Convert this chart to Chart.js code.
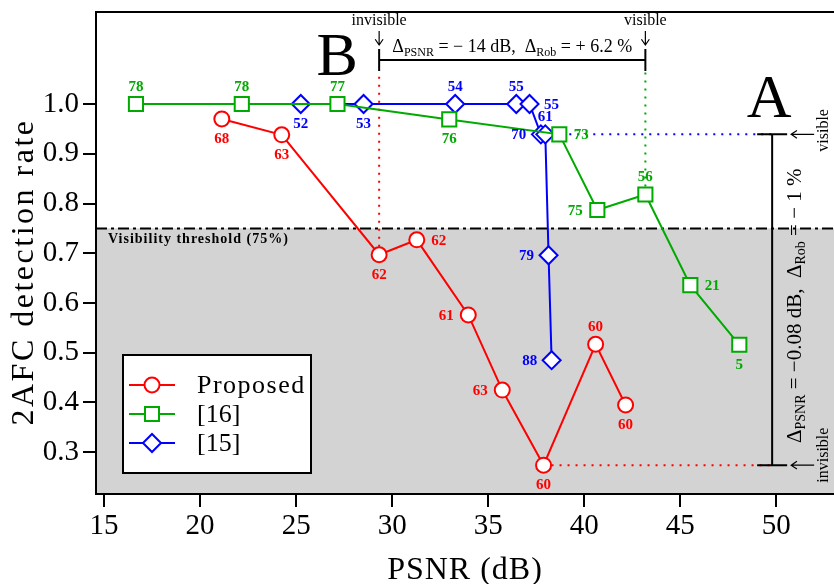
<!DOCTYPE html>
<html>
<head>
<meta charset="utf-8">
<script src="https://cdn.jsdelivr.net/npm/chart.js@4.4.1/dist/chart.umd.min.js"></script>
<style>
  html, body { margin: 0; padding: 0; background: #fff; overflow: hidden; }
</style>
</head>
<body>
<canvas id="chart" width="834" height="584"></canvas>
<script>
// values
const proposedX = [21.13, 24.25, 29.32, 31.28, 33.96, 35.73, 37.88, 40.59, 42.15];
const proposedY = [0.970, 0.938, 0.697, 0.727, 0.576, 0.425, 0.274, 0.517, 0.395];
const proposedLabels = ['68', '63', '62', '62', '61', '63', '60', '60', '60'];

const ref16X = [16.66, 22.17, 27.15, 32.97, 38.70, 40.68, 43.18, 45.52, 48.07];
const ref16Y = [1.0, 1.0, 1.0, 0.969, 0.939, 0.787, 0.818, 0.636, 0.516];
const ref16Labels = ['78', '78', '77', '76', '73', '75', '56', '21', '5'];

const ref15X = [25.24, 28.51, 33.28, 36.46, 37.15, 37.74, 37.97, 38.14, 38.30];
const ref15Y = [1.0, 1.0, 1.0, 1.0, 1.0, 0.939, 0.939, 0.696, 0.485];
const ref15Labels = ['52', '53', '54', '55', '55', '70', '61', '79', '88'];

const xTicks = [15, 20, 25, 30, 35, 40, 45, 50];
const yTicks = [0.3, 0.4, 0.5, 0.6, 0.7, 0.8, 0.9, 1.0];
const threshold = 0.75;
const rangeLineX = 49.78;

// where each number sits around its marker (a=above, b=below, l=left, r=right)
const proposedPos = ['b', 'b', 'b', 'r', 'l', 'l', 'b', 'a', 'b'];
const ref16Pos = ['a', 'a', 'a', 'b', 'r', 'l', 'a', 'r', 'b'];
const ref15Pos = ['b', 'b', 'a', 'a', 'r', 'l', 'a', 'l', 'l'];

const RED = '#ff0000', GREEN = '#00aa00', BLUE = '#0000ff';
const SERIF = '"Liberation Serif", "Times New Roman", serif';

function toPoints(xs, ys) {
  return xs.map((x, i) => ({ x: x, y: ys[i] }));
}

// text with subscripts, parts = [[text, isSub], ...], centred on x
function richText(ctx, parts, x, y, size) {
  const subSize = Math.round(size * 0.66);
  let w = 0;
  parts.forEach(p => {
    ctx.font = (p[1] ? subSize : size) + 'px ' + SERIF;
    w += ctx.measureText(p[0]).width;
  });
  let cx = x - w / 2;
  ctx.textAlign = 'left';
  ctx.textBaseline = 'alphabetic';
  parts.forEach(p => {
    ctx.font = (p[1] ? subSize : size) + 'px ' + SERIF;
    ctx.fillText(p[0], cx, y + (p[1] ? size * 0.2 : 0));
    cx += ctx.measureText(p[0]).width;
  });
}

function arrow(ctx, x1, y1, x2, y2) {
  // plain line with an open head at x2,y2
  const a = Math.atan2(y2 - y1, x2 - x1);
  ctx.beginPath();
  ctx.moveTo(x1, y1);
  ctx.lineTo(x2, y2);
  ctx.moveTo(x2 - 7 * Math.cos(a - 0.6), y2 - 7 * Math.sin(a - 0.6));
  ctx.lineTo(x2, y2);
  ctx.lineTo(x2 - 7 * Math.cos(a + 0.6), y2 - 7 * Math.sin(a + 0.6));
  ctx.stroke();
}

function drawMarker(ctx, style, x, y, color) {
  ctx.save();
  ctx.strokeStyle = color;
  ctx.fillStyle = '#fff';
  ctx.lineWidth = 2;
  ctx.beginPath();
  if (style === 'circle') ctx.arc(x, y, 7.5, 0, Math.PI * 2);
  else if (style === 'rect') ctx.rect(x - 7, y - 7, 14, 14);
  else { ctx.moveTo(x - 9, y); ctx.lineTo(x, y - 9); ctx.lineTo(x + 9, y); ctx.lineTo(x, y + 9); ctx.closePath(); }
  ctx.fill();
  ctx.stroke();
  ctx.restore();
}

const backgroundPlugin = {
  id: 'background',
  beforeDraw(chart) {
    const ctx = chart.ctx, a = chart.chartArea;
    const ty = chart.scales.y.getPixelForValue(threshold);
    ctx.save();
    ctx.fillStyle = '#d3d3d3';
    ctx.fillRect(a.left, ty, a.right - a.left, a.bottom - ty);
    ctx.restore();
  },
  beforeDatasetsDraw(chart) {
    const ctx = chart.ctx, a = chart.chartArea;
    const xs = chart.scales.x, ys = chart.scales.y;
    const ty = ys.getPixelForValue(threshold);
    ctx.save();
    // visibility threshold
    ctx.strokeStyle = '#000';
    ctx.lineWidth = 2;
    ctx.setLineDash([11, 4, 3, 4]);
    ctx.beginPath();
    ctx.moveTo(a.left, ty);
    ctx.lineTo(a.right, ty);
    ctx.stroke();
    ctx.setLineDash([]);
    ctx.fillStyle = '#000';
    ctx.font = 'bold 14px ' + SERIF;
    ctx.letterSpacing = '1px';
    ctx.textAlign = 'left';
    ctx.textBaseline = 'alphabetic';
    ctx.fillText('Visibility threshold (75%)', a.left + 12, ty + 15);
    ctx.letterSpacing = '0px';

    // dotted guide lines
    const bx1 = xs.getPixelForValue(proposedX[2]);
    const bx2 = xs.getPixelForValue(ref16X[6]);
    const rx = xs.getPixelForValue(rangeLineX);
    const bracketY = a.top + 48;
    ctx.lineWidth = 2;
    ctx.setLineDash([2, 6]);
    ctx.strokeStyle = RED;
    ctx.beginPath();
    ctx.moveTo(bx1, ys.getPixelForValue(proposedY[2]));
    ctx.lineTo(bx1, bracketY + 12);
    ctx.moveTo(xs.getPixelForValue(proposedX[6]), ys.getPixelForValue(proposedY[6]));
    ctx.lineTo(rx, ys.getPixelForValue(proposedY[6]));
    ctx.stroke();
    ctx.strokeStyle = GREEN;
    ctx.beginPath();
    ctx.moveTo(bx2, ys.getPixelForValue(ref16Y[6]));
    ctx.lineTo(bx2, bracketY + 12);
    ctx.stroke();
    ctx.strokeStyle = BLUE;
    ctx.beginPath();
    ctx.moveTo(xs.getPixelForValue(ref15X[6]), ys.getPixelForValue(ref15Y[6]));
    ctx.lineTo(rx, ys.getPixelForValue(ref15Y[6]));
    ctx.stroke();
    ctx.setLineDash([]);
    ctx.restore();
  },
  afterDatasetsDraw(chart) {
    const ctx = chart.ctx;
    const xs = chart.scales.x, ys = chart.scales.y;
    const sets = [
      [proposedX, proposedY, proposedLabels, proposedPos, RED],
      [ref16X, ref16Y, ref16Labels, ref16Pos, GREEN],
      [ref15X, ref15Y, ref15Labels, ref15Pos, BLUE]
    ];
    ctx.save();
    ctx.font = 'bold 15px ' + SERIF;
    ctx.textAlign = 'center';
    ctx.textBaseline = 'middle';
    sets.forEach(s => {
      ctx.fillStyle = s[4];
      s[0].forEach((x, i) => {
        let px = xs.getPixelForValue(x), py = ys.getPixelForValue(s[1][i]);
        const p = s[3][i];
        if (p === 'a') py -= 18;
        else if (p === 'b') py += 19;
        else if (p === 'l') px -= 22;
        else px += 22;
        ctx.fillText(s[2][i], px, py + 1);
      });
    });
    ctx.restore();
  },
  afterDraw(chart) {
    const ctx = chart.ctx, a = chart.chartArea;
    const xs = chart.scales.x, ys = chart.scales.y;
    ctx.save();
    // frame
    ctx.strokeStyle = '#000';
    ctx.lineWidth = 2;
    ctx.beginPath();
    ctx.moveTo(a.right, a.top);
    ctx.lineTo(a.left, a.top);
    ctx.lineTo(a.left, a.bottom);
    ctx.lineTo(a.right, a.bottom);
    ctx.stroke();

    // axis titles
    ctx.fillStyle = '#000';
    ctx.textAlign = 'center';
    ctx.textBaseline = 'alphabetic';
    ctx.font = '32px ' + SERIF;
    ctx.letterSpacing = '1px';
    ctx.fillText('PSNR (dB)', (a.left + a.right) / 2, 579);
    ctx.save();
    ctx.translate(33, 272);
    ctx.rotate(-Math.PI / 2);
    ctx.letterSpacing = '2.5px';
    ctx.fillText('2AFC detection rate', 0, 0);
    ctx.restore();
    ctx.letterSpacing = '0px';

    // top bracket (B)
    const bx1 = xs.getPixelForValue(proposedX[2]);
    const bx2 = xs.getPixelForValue(ref16X[6]);
    const bracketY = a.top + 48;
    ctx.lineWidth = 2;
    ctx.beginPath();
    ctx.moveTo(bx1, bracketY);
    ctx.lineTo(bx2, bracketY);
    ctx.moveTo(bx1, bracketY - 11);
    ctx.lineTo(bx1, bracketY + 11);
    ctx.moveTo(bx2, bracketY - 11);
    ctx.lineTo(bx2, bracketY + 11);
    ctx.stroke();
    ctx.lineWidth = 1.2;
    arrow(ctx, bx1, a.top + 19, bx1, a.top + 33);
    arrow(ctx, bx2, a.top + 19, bx2, a.top + 33);
    ctx.font = '16px ' + SERIF;
    ctx.textAlign = 'center';
    ctx.fillText('invisible', bx1, a.top + 13);
    ctx.fillText('visible', bx2, a.top + 13);
    richText(ctx, [['\u0394', false], ['PSNR', true], [' = \u2212 14 dB,  \u0394', false], ['Rob', true], [' = + 6.2 %', false]],
      (bx1 + bx2) / 2, a.top + 40, 18);
    ctx.font = '62px ' + SERIF;
    ctx.textAlign = 'center';
    ctx.fillText('B', bx1 - 42, a.top + 63);

    // right range bar (A)
    const rx = xs.getPixelForValue(rangeLineX);
    const vy = ys.getPixelForValue(ref15Y[6]);
    const iy = ys.getPixelForValue(proposedY[6]);
    ctx.lineWidth = 2;
    ctx.beginPath();
    ctx.moveTo(rx, vy);
    ctx.lineTo(rx, iy);
    ctx.moveTo(rx - 15, vy);
    ctx.lineTo(rx + 15, vy);
    ctx.moveTo(rx - 15, iy);
    ctx.lineTo(rx + 15, iy);
    ctx.stroke();
    ctx.lineWidth = 1.2;
    arrow(ctx, rx + 42, vy, rx + 19, vy);
    arrow(ctx, rx + 42, iy, rx + 19, iy);
    ctx.font = '16px ' + SERIF;
    ctx.save();
    ctx.translate(rx + 56, vy - 4);
    ctx.rotate(-Math.PI / 2);
    ctx.textAlign = 'center';
    ctx.fillText('visible', 0, 0);
    ctx.restore();
    ctx.save();
    ctx.translate(rx + 56, iy - 10);
    ctx.rotate(-Math.PI / 2);
    ctx.textAlign = 'center';
    ctx.fillText('invisible', 0, 0);
    ctx.restore();
    ctx.save();
    ctx.translate(rx + 29, (vy + iy) / 2 + 6);
    ctx.rotate(-Math.PI / 2);
    richText(ctx, [['\u0394', false], ['PSNR', true], [' = \u22120.08 dB,  \u0394', false], ['Rob', true], [' = \u2212 1 %', false]],
      0, 0, 21);
    ctx.restore();
    ctx.font = '62px ' + SERIF;
    ctx.textAlign = 'center';
    ctx.fillText('A', rx - 3, vy - 17);

    // legend
    const lx = 123, ly = 355, lw = 188, lh = 118;
    ctx.fillStyle = '#fff';
    ctx.fillRect(lx, ly, lw, lh);
    ctx.strokeStyle = '#000';
    ctx.lineWidth = 2;
    ctx.strokeRect(lx, ly, lw, lh);
    const entries = [['Proposed', RED, 'circle'], ['[16]', GREEN, 'rect'], ['[15]', BLUE, 'diamond']];
    entries.forEach((e, i) => {
      const y = ly + 30 + i * 29;
      ctx.strokeStyle = e[1];
      ctx.lineWidth = 2;
      ctx.beginPath();
      ctx.moveTo(lx + 6, y);
      ctx.lineTo(lx + 52, y);
      ctx.stroke();
      drawMarker(ctx, e[2], lx + 29, y, e[1]);
      ctx.fillStyle = '#000';
      ctx.font = '26px ' + SERIF;
      ctx.textAlign = 'left';
      ctx.textBaseline = 'middle';
      ctx.letterSpacing = i === 0 ? '1.5px' : '0px';
      ctx.fillText(e[0], lx + 74, y + 1);
      ctx.letterSpacing = '0px';
    });
    ctx.restore();
  }
};

function lineSet(label, xs, ys, color, style, radius) {
  return {
    label: label,
    data: toPoints(xs, ys),
    showLine: true,
    borderColor: color,
    borderWidth: 2,
    backgroundColor: '#fff',
    pointStyle: style,
    pointRadius: radius,
    pointBorderWidth: 2,
    pointBackgroundColor: '#fff',
    pointBorderColor: color
  };
}

new Chart(document.getElementById('chart'), {
  type: 'scatter',
  data: {
    datasets: [
      lineSet('Proposed', proposedX, proposedY, RED, 'circle', 7.5),
      lineSet('[16]', ref16X, ref16Y, GREEN, 'rect', 10),
      lineSet('[15]', ref15X, ref15Y, BLUE, 'rectRot', 9)
    ]
  },
  options: {
    responsive: false,
    animation: false,
    layout: { autoPadding: false, padding: { top: 12, right: 0, left: 0, bottom: 0 } },
    plugins: {
      legend: { display: false },
      tooltip: { enabled: false }
    },
    scales: {
      x: {
        type: 'linear',
        min: 14.58,
        max: 53.0,
        afterFit: s => { s.height = 90; s.paddingLeft = 0; s.paddingRight = 0; },
        afterBuildTicks: s => { s.ticks = xTicks.map(v => ({ value: v })); },
        grid: { drawOnChartArea: false, drawTicks: true, tickLength: 13, color: '#000', lineWidth: 2 },
        border: { display: true, color: '#000', width: 2 },
        ticks: { color: '#000', font: { family: SERIF, size: 29 }, padding: 2, maxRotation: 0 }
      },
      y: {
        type: 'linear',
        min: 0.216,
        max: 1.185,
        afterFit: s => { s.width = 96; s.paddingTop = 0; s.paddingBottom = 0; },
        afterBuildTicks: s => { s.ticks = yTicks.map(v => ({ value: v })); },
        grid: { drawOnChartArea: false, drawTicks: true, tickLength: 13, color: '#000', lineWidth: 2 },
        border: { display: true, color: '#000', width: 2 },
        ticks: { color: '#000', font: { family: SERIF, size: 29 }, padding: 4, callback: v => v.toFixed(1) }
      }
    }
  },
  plugins: [backgroundPlugin]
});
</script>
</body>
</html>
